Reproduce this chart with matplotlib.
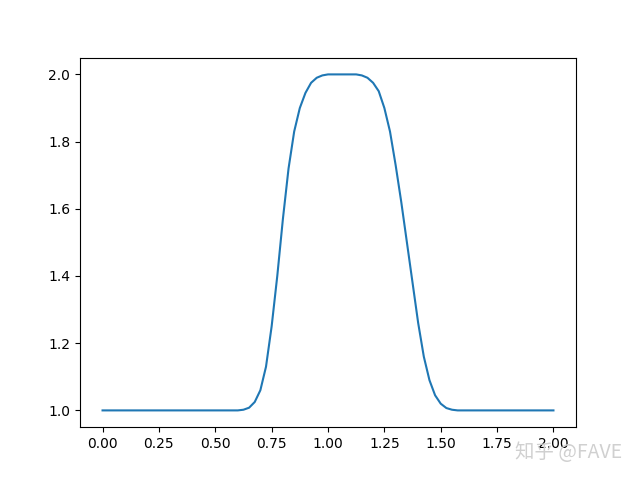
import matplotlib.pyplot as plt
import numpy as np

plt.rcParams['font.family'] = ['DejaVu Sans', 'Noto Sans CJK SC']

# grid: 81 points on [0, 2]
x = np.linspace(0, 2, 81)

# values (only the hump, rest is 1.0)
hump_start = 24  # x = 0.6
hump = [1.0, 1.002, 1.008, 1.025, 1.06, 1.13, 1.25, 1.40, 1.57, 1.72,
        1.83, 1.90, 1.945, 1.975, 1.99, 1.997, 2.0, 2.0, 2.0, 2.0,
        2.0, 2.0, 1.997, 1.99, 1.975, 1.95, 1.90, 1.83, 1.73, 1.62,
        1.50, 1.38, 1.26, 1.16, 1.09, 1.045, 1.02, 1.007, 1.002, 1.0]

u = np.ones(81)
u[hump_start:hump_start + len(hump)] = hump

fig = plt.figure(figsize=(6.4, 4.8), dpi=100)
plt.plot(x, u)
fig.text(0.972, 0.035, '知乎 @FAVE', ha='right', va='bottom', fontsize=14,
         color='#d0d0d0', family=['Noto Sans CJK SC', 'DejaVu Sans'])
plt.savefig('out.png')
